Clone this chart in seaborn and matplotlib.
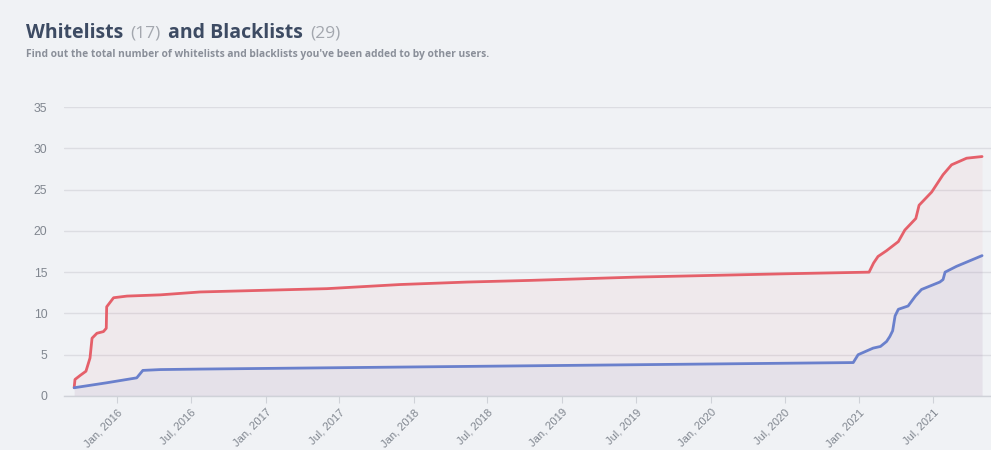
import matplotlib
matplotlib.use("Agg")
import matplotlib.pyplot as plt
import numpy as np
import pandas as pd
import seaborn as sns

# ---------------- data ----------------
black_dates = ["2015-09-18", "2015-09-20", "2015-10-03", "2015-10-17", "2015-10-27",
               "2015-11-01", "2015-11-13", "2015-11-29", "2015-12-06", "2015-12-07",
               "2015-12-24", "2016-01-26", "2016-04-17", "2016-07-24", "2017-06-01",
               "2017-11-28", "2018-05-12", "2018-10-14", "2019-07-01", "2020-07-01",
               "2021-01-25", "2021-02-05", "2021-02-16", "2021-03-09", "2021-04-07",
               "2021-04-23", "2021-05-20", "2021-05-28", "2021-06-28", "2021-07-26",
               "2021-08-16", "2021-09-22", "2021-10-30"]
black_values = [1.0, 2.0, 2.5, 3.0, 4.6,
                7.0, 7.6, 7.8, 8.2, 10.8,
                11.9, 12.1, 12.25, 12.6, 13.0,
                13.5, 13.8, 14.0, 14.4, 14.8,
                15.0, 16.1, 16.9, 17.6, 18.7,
                20.1, 21.5, 23.1, 24.7, 26.8,
                28.0, 28.8, 29.0]

white_dates = ["2015-09-18", "2015-12-07", "2016-02-19", "2016-03-05", "2016-04-17",
               "2016-07-24", "2018-10-14", "2020-12-17", "2020-12-29", "2021-02-04",
               "2021-02-22", "2021-03-09", "2021-03-17", "2021-03-24", "2021-03-30",
               "2021-04-07", "2021-05-01", "2021-05-19", "2021-06-03", "2021-07-18",
               "2021-07-26", "2021-07-31", "2021-08-28", "2021-10-30"]
white_values = [1.0, 1.6, 2.2, 3.1, 3.2,
                3.26, 3.66, 4.05, 5.0, 5.8,
                6.0, 6.6, 7.2, 7.9, 9.7,
                10.5, 10.9, 12.1, 12.9, 13.8,
                14.1, 15.0, 15.7, 17.0]

tick_dates = ["2016-01-01", "2016-07-01", "2017-01-01", "2017-07-01", "2018-01-01",
              "2018-07-01", "2019-01-01", "2019-07-01", "2020-01-01", "2020-07-01",
              "2021-01-01", "2021-07-01"]
tick_labels = ["Jan, 2016", "Jul, 2016", "Jan, 2017", "Jul, 2017", "Jan, 2018",
               "Jul, 2018", "Jan, 2019", "Jul, 2019", "Jan, 2020", "Jul, 2020",
               "Jan, 2021", "Jul, 2021"]
y_ticks = [0, 5, 10, 15, 20, 25, 30, 35]

title_parts = ["Whitelists", "(17)", "and Blacklists", "(29)"]
subtitle = "Find out the total number of whitelists and blacklists you've been added to by other users."

# ---------------- style ----------------
BG = "#f0f2f5"
RED = "#e5606a"
BLUE = "#6a80cc"
GRID = "#dcdde2"
TICK = "#80868f"

sns.set_theme(style="white")
plt.rcParams["font.family"] = ["Liberation Sans", "DejaVu Sans"]

black = pd.DataFrame({"date": pd.to_datetime(black_dates), "value": black_values})
white = pd.DataFrame({"date": pd.to_datetime(white_dates), "value": white_values})

fig = plt.figure(figsize=(9.91, 4.5), dpi=100, facecolor=BG)
ax = fig.add_axes([64 / 991, 54 / 450, 1 - 64 / 991, (396 - 107) / 450])
ax.set_facecolor(BG)

ax.fill_between(black["date"], 0, black["value"], color=RED, alpha=0.06, lw=0, zorder=1)
ax.fill_between(white["date"], 0, white["value"], color=BLUE, alpha=0.07, lw=0, zorder=1)
sns.lineplot(data=black, x="date", y="value", ax=ax, color=RED, lw=2.0, zorder=3)
sns.lineplot(data=white, x="date", y="value", ax=ax, color=BLUE, lw=2.0, zorder=3)

ax.set_ylim(0, 35)
ax.set_xlim(pd.Timestamp("2015-08-24"), pd.Timestamp("2021-11-21"))
ax.set_yticks(y_ticks)
ax.set_yticklabels([str(v) for v in y_ticks])
ax.set_xticks(pd.to_datetime(tick_dates))
ax.set_xticklabels(tick_labels, rotation=45, ha="right", rotation_mode="anchor")
ax.set_xlabel("")
ax.set_ylabel("")

ax.grid(axis="y", color=GRID, lw=1.0, zorder=0)
ax.grid(axis="x", visible=False)
for s in ["top", "right", "left"]:
    ax.spines[s].set_visible(False)
ax.spines["bottom"].set_color("#cfd2d8")
ax.spines["bottom"].set_linewidth(1.0)

ax.tick_params(axis="y", length=0, pad=12, labelsize=8.8, labelcolor=TICK)
ax.tick_params(axis="x", length=5, width=0.8, color="#cfd2d8", pad=3,
               labelsize=8, labelcolor=TICK, bottom=True)

# ---------------- title ----------------
TITLE_C = "#3d4b63"
LIGHT_C = "#a3a7ae"
FAM = ["Open Sans", "DejaVu Sans"]
ty = 1 - 38 / 450
styles = [dict(fontsize=14, fontweight="bold", color=TITLE_C),
          dict(fontsize=12.5, fontweight="normal", color=LIGHT_C),
          dict(fontsize=14, fontweight="bold", color=TITLE_C),
          dict(fontsize=12.5, fontweight="normal", color=LIGHT_C)]
gaps = [7, 8, 7, 0]
fig.canvas.draw()
renderer = fig.canvas.get_renderer()
xpix = 26.0
for part, st, gap in zip(title_parts, styles, gaps):
    t = fig.text(xpix / 991, ty, part, family=FAM, va="baseline", **st)
    bb = t.get_window_extent(renderer=renderer)
    xpix = bb.x1 + gap

fig.text(26 / 991, 1 - 57 / 450, subtitle, fontsize=7.4, fontweight="bold", color="#8a8f99",
         family=FAM, va="baseline")

fig.savefig("out.png", dpi=100, facecolor=BG)
